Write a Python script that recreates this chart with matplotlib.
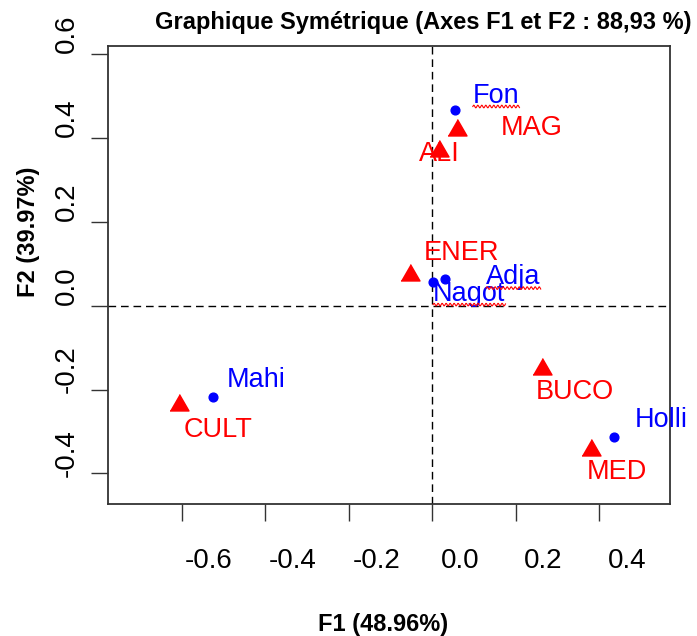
import numpy as np
import matplotlib
matplotlib.use("Agg")
import matplotlib.pyplot as plt
from matplotlib.transforms import ScaledTranslation
from matplotlib.lines import Line2D

plt.rcParams['font.family'] = ['Liberation Sans', 'DejaVu Sans']

# ---- data ----
row_names = ["Fon", "Nagot", "Adja", "Mahi", "Holli"]
row_f1 = [0.054, 0.002, 0.031, -0.524, 0.434]
row_f2 = [0.467, 0.057, 0.063, -0.217, -0.313]

col_names = ["MAG", "ALI", "ENER", "CULT", "BUCO", "MED"]
col_f1 = [0.059, 0.017, -0.053, -0.605, 0.263, 0.381]
col_f2 = [0.419, 0.367, 0.073, -0.237, -0.152, -0.343]

xticks = [-0.6, -0.4, -0.2, 0.0, 0.2, 0.4]
yticks = [-0.4, -0.2, 0.0, 0.2, 0.4, 0.6]
xtick_labels = ["-0.6", "-0.4", "-0.2", "0.0", "0.2", "0.4"]
ytick_labels = ["-0.4", "-0.2", "0.0", "0.2", "0.4", "0.6"]

title = "Graphique Symétrique (Axes F1 et F2 : 88,93 %)"
xlabel = "F1 (48.96%)"
ylabel = "F2 (39.97%)"

# label offsets (pixels: right, down) from each point to the text baseline-left
row_off = {"Fon": (18, -7), "Nagot": (0, 19), "Adja": (41, 5), "Mahi": (13, -10), "Holli": (21, -10)}
col_off = {"MAG": (44, 5.5), "ALI": (-20, 10), "ENER": (14, -15), "CULT": (4, 32),
           "BUCO": (-6, 30), "MED": (-5, 29)}
squiggle = ["Fon", "Adja", "Nagot"]

W, H, DPI = 697, 636, 100
fig = plt.figure(figsize=(W / DPI, H / DPI), dpi=DPI)
ax = fig.add_axes([108 / W, 1 - 503.7 / H, (670 - 108) / W, (503.7 - 45.7) / H])
ax.set_xlim(-0.776, 0.569)
ax.set_ylim(-0.472, 0.619)

for s in ax.spines.values():
    s.set_linewidth(1.3)
    s.set_color("#333333")

ax.axvline(0, color="black", lw=1.0, dashes=(5.5, 3.5), zorder=1)
ax.axhline(0, color="black", lw=1.0, dashes=(5.5, 3.5), zorder=1)

tri = [(-1, -0.577), (1, -0.577), (0, 1.155)]
ax.plot(col_f1, col_f2, linestyle="none", marker=tri, markersize=15.8,
        color="#FF0000", zorder=3)
ax.plot(row_f1, row_f2, linestyle="none", marker="o", markersize=6.3,
        color="#0000FF", zorder=3)

texts = {}
for n, x, y in zip(row_names, row_f1, row_f2):
    dx, dy = row_off[n]
    texts[n] = ax.annotate(n, (x, y), xytext=(dx * 0.72, -dy * 0.72), textcoords="offset points",
                           ha="left", va="baseline", color="#0000FF", fontsize=19.5,
                           annotation_clip=False, zorder=4)
for n, x, y in zip(col_names, col_f1, col_f2):
    dx, dy = col_off[n]
    texts[n] = ax.annotate(n, (x, y), xytext=(dx * 0.72, -dy * 0.72), textcoords="offset points",
                           ha="left", va="baseline", color="#FF0000", fontsize=19.5,
                           annotation_clip=False, zorder=4)

# ticks
ax.set_xticks(xticks)
ax.set_yticks(yticks)
ax.set_xticklabels([])
ax.set_yticklabels([])
ax.tick_params(direction="out", length=12.2, width=1.0, color="#333333")

xoff = ax.get_xaxis_transform() + ScaledTranslation(27.5 / DPI, -(17 + 27) / DPI, fig.dpi_scale_trans)
for v, lab in zip(xticks, xtick_labels):
    ax.text(v, 0, lab, transform=xoff, ha="center", va="top", fontsize=20)
yoff = ax.get_yaxis_transform() + ScaledTranslation(-(17 + 11) / DPI, 20 / DPI, fig.dpi_scale_trans)
for v, lab in zip(yticks, ytick_labels):
    ax.text(0, v, lab, transform=yoff, ha="right", va="center", rotation=90, fontsize=20)

fig.text(423 / W, 1 - 22 / H, title, ha="center", va="center", fontsize=17, fontweight="bold")
fig.text(383 / W, 1 - 624 / H, xlabel, ha="center", va="center", fontsize=17, fontweight="bold")
fig.text(29 / W, 1 - 232 / H, ylabel, ha="center", va="center", rotation=90, fontsize=17,
         fontweight="bold")

# spell-check style squiggles under some labels
fig.canvas.draw()
r = fig.canvas.get_renderer()
for n in squiggle:
    bb = texts[n].get_window_extent(r)
    xs = np.linspace(bb.x0, bb.x1, 200)
    ys = bb.y0 + 2.0 + 1.3 * np.sin((xs - bb.x0) / 4.0 * 2 * np.pi)
    fig.add_artist(Line2D(xs / W, ys / H, transform=fig.transFigure, color="#FF0000", lw=0.8))

fig.savefig("out.png", dpi=DPI)
